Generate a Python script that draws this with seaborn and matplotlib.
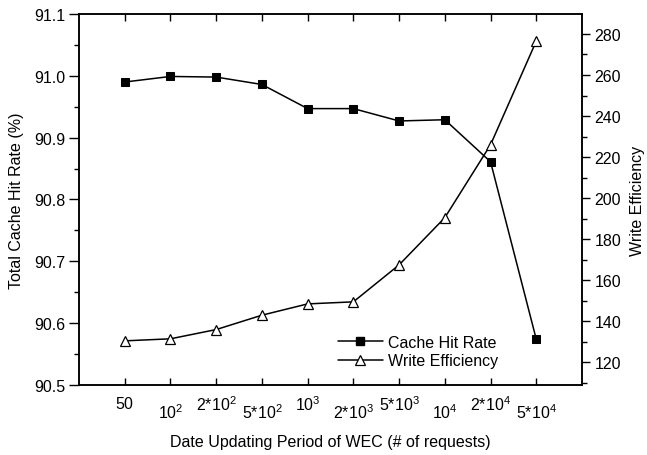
import matplotlib
matplotlib.use("Agg")
import matplotlib.pyplot as plt
import matplotlib.transforms as mtransforms
from matplotlib.ticker import MultipleLocator, FormatStrFormatter
from matplotlib.lines import Line2D
import numpy as np
import pandas as pd
import seaborn as sns

# ---- data ----
periods = ["50", "10^2", "2*10^2", "5*10^2", "10^3", "2*10^3", "5*10^3", "10^4", "2*10^4", "5*10^4"]
tick_labels = [r"$\mathregular{50}$", r"$\mathregular{10^2}$", r"$\mathregular{2{*}10^2}$",
               r"$\mathregular{5{*}10^2}$", r"$\mathregular{10^3}$", r"$\mathregular{2{*}10^3}$",
               r"$\mathregular{5{*}10^3}$", r"$\mathregular{10^4}$", r"$\mathregular{2{*}10^4}$",
               r"$\mathregular{5{*}10^4}$"]
cache_hit_rate = [90.990, 90.999, 90.998, 90.986, 90.947, 90.947, 90.927, 90.929, 90.861, 90.574]
write_efficiency = [130.5, 131.5, 136.0, 143.0, 148.5, 149.5, 167.5, 190.5, 226.0, 276.5]

sns.set_theme(style="ticks")
plt.rcParams['font.family'] = ['Liberation Sans', 'DejaVu Sans']
plt.rcParams['mathtext.fontset'] = 'custom'
plt.rcParams['mathtext.rm'] = 'Liberation Sans'
plt.rcParams['mathtext.it'] = 'Liberation Sans:italic'
plt.rcParams['mathtext.bf'] = 'Liberation Sans:bold'
plt.rcParams['text.color'] = 'black'
plt.rcParams['axes.labelcolor'] = 'black'
plt.rcParams['xtick.color'] = 'black'
plt.rcParams['ytick.color'] = 'black'

df = pd.DataFrame({"pos": np.arange(len(periods)), "period": periods,
                   "hit": cache_hit_rate, "we": write_efficiency})

fig = plt.figure(figsize=(6.47, 4.56), dpi=100)
ax = fig.add_axes([79/647, 1-386/456, (582-79)/647, (386-15)/456])
ax2 = ax.twinx()

sns.lineplot(data=df, x="pos", y="hit", ax=ax, color="black", linewidth=1.1,
             marker="s", markersize=6, markerfacecolor="black", markeredgecolor="black",
             legend=False)
sns.lineplot(data=df, x="pos", y="we", ax=ax2, color="black", linewidth=1.1,
             marker="^", markersize=7, markerfacecolor="white", markeredgecolor="black",
             markeredgewidth=0.9, legend=False)

fs = 11.5
ax.set_xlim(-1, 10)
ax.set_ylim(90.5, 91.1)
ax2.set_ylim(109, 289.7)

ax.yaxis.set_major_locator(MultipleLocator(0.1))
ax.yaxis.set_minor_locator(MultipleLocator(0.05))
ax.yaxis.set_major_formatter(FormatStrFormatter("%.1f"))
ax2.yaxis.set_major_locator(MultipleLocator(20))
ax2.yaxis.set_minor_locator(MultipleLocator(10))
ax2.set_yticks(np.arange(120, 281, 20))

ax.set_xticks(df["pos"])
ax.set_xticklabels(tick_labels, fontsize=fs)
ax.tick_params(axis="x", which="major", direction="in", length=5, width=1.0,
               top=True, bottom=True, pad=7, colors="black")
ax.tick_params(axis="y", which="major", direction="out", length=7, width=1.0,
               labelsize=fs, pad=3, colors="black")
ax.tick_params(axis="y", which="minor", direction="out", length=3.5, width=1.0, colors="black")
ax2.tick_params(axis="y", which="major", direction="out", length=6, width=1.0,
                labelsize=fs, pad=3, colors="black")
ax2.tick_params(axis="y", which="minor", direction="out", length=3.5, width=1.0, colors="black")
ax2.tick_params(axis="x", which="both", top=False, bottom=False)

# alternate label heights
for i, lab in enumerate(ax.get_xticklabels()):
    if i % 2 == 1:
        lab.set_transform(lab.get_transform() + mtransforms.ScaledTranslation(0, -8/100, fig.dpi_scale_trans))

for a in (ax, ax2):
    for s in a.spines.values():
        s.set_linewidth(1.1)
        s.set_color("black")
        s.set_visible(True)

ax.set_xlabel("Date Updating Period of WEC (# of requests)", fontsize=fs, labelpad=9, color="black")
ax.set_ylabel("Total Cache Hit Rate (%)", fontsize=fs, labelpad=7, color="black")
ax2.set_ylabel("Write Efficiency", fontsize=fs, labelpad=6, color="black")

handles = [Line2D([], [], color="black", linewidth=1.1, marker="s", markersize=6,
                  markerfacecolor="black", markeredgecolor="black"),
           Line2D([], [], color="black", linewidth=1.1, marker="^", markersize=7,
                  markerfacecolor="white", markeredgecolor="black", markeredgewidth=0.9)]
fig.legend(handles, ["Cache Hit Rate", "Write Efficiency"], loc="upper left",
           bbox_to_anchor=(338/647, 1-336/456), frameon=False, fontsize=fs,
           handlelength=2.8, handletextpad=0.3, borderpad=0, borderaxespad=0,
           labelspacing=0.2, labelcolor="black")

fig.savefig("out.png", dpi=100)
